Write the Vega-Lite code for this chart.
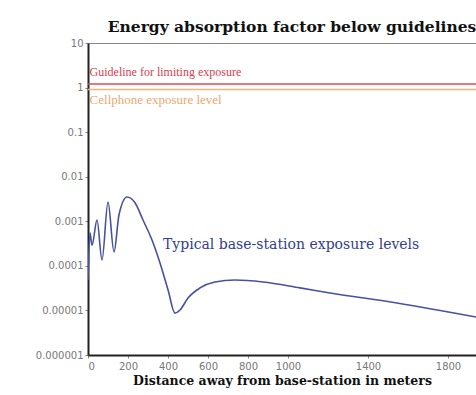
{
  "$schema": "https://vega.github.io/schema/vega-lite/v6.json",
  "autosize": "none",
  "width": 388,
  "height": 312,
  "padding": {"left": 88, "top": 43, "right": 0, "bottom": 40},
  "background": "white",
  "config": {"view": {"stroke": "#888", "strokeWidth": 1}},
  "title": {
    "text": "Energy absorption factor below guidelines",
    "font": "DejaVu Serif",
    "fontSize": 15.5,
    "fontWeight": "bold",
    "color": "#111",
    "anchor": "middle",
    "dx": 10,
    "offset": 3
  },
  "datasets": {
    "curve": [
      {"d": 0, "v": 0.000048},
      {"d": 10, "v": 0.00055},
      {"d": 20, "v": 0.00029},
      {"d": 45, "v": 0.00107},
      {"d": 70, "v": 0.000135},
      {"d": 100, "v": 0.0027},
      {"d": 130, "v": 0.000205},
      {"d": 155, "v": 0.0014},
      {"d": 195, "v": 0.0035},
      {"d": 235, "v": 0.0026},
      {"d": 275, "v": 0.00107},
      {"d": 320, "v": 0.00038},
      {"d": 360, "v": 0.000116},
      {"d": 400, "v": 0.000029},
      {"d": 435, "v": 0.0000087},
      {"d": 460, "v": 0.0000102},
      {"d": 500, "v": 0.000019},
      {"d": 560, "v": 0.000032},
      {"d": 635, "v": 0.0000435},
      {"d": 735, "v": 0.000048},
      {"d": 875, "v": 0.0000435},
      {"d": 1060, "v": 0.000032},
      {"d": 1210, "v": 0.0000246},
      {"d": 1545, "v": 0.0000147},
      {"d": 1940, "v": 0.0000071}
    ],
    "guides": [
      {"name": "Guideline", "v": 1.2, "color": "#e04a55"},
      {"name": "Cellphone", "v": 0.9, "color": "#f2b27a"}
    ],
    "labels": [
      {"d": 8, "v": 2.2, "label": "Guideline for limiting exposure", "color": "#d8404e", "size": 12, "kind": "guide"},
      {"d": 8, "v": 0.53, "label": "Cellphone exposure level", "color": "#eaa870", "size": 13, "kind": "guide"},
      {"d": 375, "v": 0.00029, "label": "Typical base-station exposure levels", "color": "#34408c", "size": 14, "kind": "curve"}
    ]
  },
  "layer": [
    {
      "data": {"name": "guides"},
      "mark": {"type": "rule", "strokeWidth": 1.5},
      "encoding": {
        "y": {"field": "v", "type": "quantitative", "scale": {"type": "log", "domain": [0.000001, 10]}},
        "color": {"field": "color", "type": "nominal", "scale": null}
      }
    },
    {
      "data": {"name": "curve"},
      "mark": {"type": "line", "color": "#4652a0", "strokeWidth": 1.6, "interpolate": "monotone", "clip": true},
      "encoding": {
        "x": {
          "field": "d", "type": "quantitative",
          "scale": {"domain": [0, 1940], "nice": false},
          "axis": {
            "values": [0, 200, 400, 600, 800, 1000, 1400, 1800],
            "format": "d",
            "title": "Distance away from base-station in meters",
            "titleFont": "DejaVu Serif",
            "titleFontSize": 12.5,
            "titleFontWeight": "bold",
            "titleColor": "#111",
            "titlePadding": 3,
            "labelFont": "DejaVu Sans",
            "labelFontSize": 10,
            "labelColor": "#777",
            "labelPadding": 3,
            "tickSize": 3,
            "tickColor": "#888",
            "domainColor": "#222",
            "domainWidth": 2,
            "grid": false
          }
        },
        "y": {
          "field": "v", "type": "quantitative",
          "scale": {"type": "log", "domain": [0.000001, 10]},
          "axis": {
            "values": [10, 1, 0.1, 0.01, 0.001, 0.0001, 0.00001, 0.000001],
            "labelExpr": "format(datum.value, '.6~f')",
            "title": null,
            "labelFont": "DejaVu Sans",
            "labelFontSize": 10,
            "labelColor": "#777",
            "labelPadding": 2,
            "tickSize": 3,
            "tickColor": "#888",
            "domainColor": "#222",
            "domainWidth": 2,
            "grid": false
          }
        }
      }
    },
    {
      "data": {"name": "labels"},
      "transform": [{"filter": "datum.kind === 'guide'"}],
      "mark": {"type": "text", "align": "left", "baseline": "middle", "font": "Liberation Serif"},
      "encoding": {
        "x": {"field": "d", "type": "quantitative"},
        "y": {"field": "v", "type": "quantitative"},
        "text": {"field": "label"},
        "color": {"field": "color", "type": "nominal", "scale": null},
        "size": {"field": "size", "type": "quantitative", "scale": null}
      }
    },
    {
      "data": {"name": "labels"},
      "transform": [{"filter": "datum.kind === 'curve'"}],
      "mark": {"type": "text", "align": "left", "baseline": "middle", "font": "DejaVu Serif"},
      "encoding": {
        "x": {"field": "d", "type": "quantitative"},
        "y": {"field": "v", "type": "quantitative"},
        "text": {"field": "label"},
        "color": {"field": "color", "type": "nominal", "scale": null},
        "size": {"field": "size", "type": "quantitative", "scale": null}
      }
    }
  ]
}
